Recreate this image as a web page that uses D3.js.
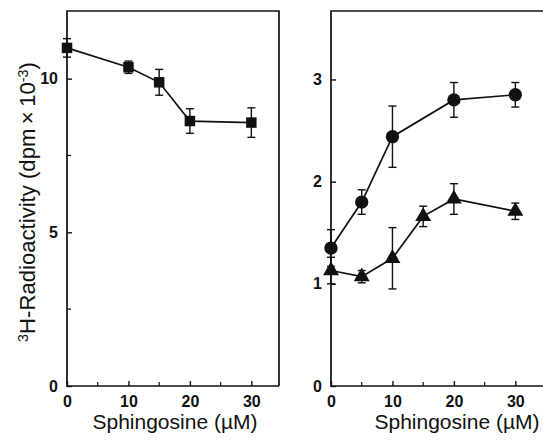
<!DOCTYPE html>
<html>
<head>
<meta charset="utf-8">
<script src="https://cdn.jsdelivr.net/npm/d3@7"></script>
<style>
  body { margin: 0; background: #fff; }
  text { font-family: "Liberation Sans", Arial, sans-serif; fill: #111; }
</style>
</head>
<body>
<div id="chart-area"></div>
<script>
// left panel: squares
const dose = [0, 10, 15, 20, 30]
const squareMean = [11.0, 10.37, 9.88, 8.62, 8.57]
const squareErr = [0.3, 0.2, 0.42, 0.4, 0.48]

// right panel: circles and triangles
const circleDose = [0, 5, 10, 20, 30]
const circleMean = [1.35, 1.80, 2.44, 2.80, 2.85]
const circleErr = [0.18, 0.12, 0.3, 0.17, 0.12]

const triDose = [0, 5, 10, 15, 20, 30]
const triMean = [1.13, 1.07, 1.25, 1.66, 1.83, 1.71]
const triErr = [0.13, 0.06, 0.3, 0.1, 0.15, 0.08]

const xTicks = [0, 10, 20, 30]
const xMinor = [5, 15, 25]
const leftTicks = [0, 5, 10]
const leftMinor = [2.5, 7.5]
const rightTicks = [0, 1, 2, 3]

const svg = d3.select('#chart-area').append('svg')
    .attr('width', 543)
    .attr('height', 444)

const ink = '#111'

// scale a text's font so its length matches what the picture shows
function fitText(sel, target) {
    const fs = +sel.attr('font-size')
    const len = sel.node().getComputedTextLength()
    sel.attr('font-size', (fs * target / len).toFixed(2))
}

function panel(opt) {
    const x = d3.scaleLinear().domain([0, 34.5]).range([opt.left, opt.right])
    const y = d3.scaleLinear().domain([0, opt.yMax]).range([386, 11])
    const g = svg.append('g')

    const frame = opt.closed
        ? [[opt.right, 386], [opt.right, 11], [opt.left, 11], [opt.left, 386], [opt.right, 386]]
        : [[opt.right, 11], [opt.left, 11], [opt.left, 386], [opt.right, 386]]
    g.append('path')
        .attr('d', d3.line()(frame))
        .attr('fill', 'none').attr('stroke', ink).attr('stroke-width', 1.7)

    // ticks point inward
    const xAxis = d3.axisBottom(x).tickValues(xTicks).tickSize(-5).tickPadding(9)
    const xg = g.append('g').attr('transform', 'translate(0,386)').call(xAxis)
    xg.select('.domain').remove()
    xg.selectAll('line').attr('stroke', ink).attr('stroke-width', 1.4)
    xg.selectAll('text').attr('font-size', 16).attr('dy', '0.72em').attr('font-weight', 'bold').attr('fill', '#222')
    g.selectAll(null).data(xMinor).enter().append('line')
        .attr('x1', d => x(d)).attr('x2', d => x(d))
        .attr('y1', 386).attr('y2', 382)
        .attr('stroke', ink).attr('stroke-width', 1.2)

    const yAxis = d3.axisLeft(y).tickValues(opt.yTicks).tickSize(-5).tickPadding(9)
        .tickFormat(d3.format('d'))
    const yg = g.append('g').attr('transform', `translate(${opt.left},0)`).call(yAxis)
    yg.select('.domain').remove()
    yg.selectAll('line').attr('stroke', ink).attr('stroke-width', 1.4)
    yg.selectAll('text').attr('font-size', 16).attr('font-weight', 'bold').attr('fill', '#222')
    g.selectAll(null).data(opt.yMinor || []).enter().append('line')
        .attr('x1', opt.left).attr('x2', opt.left + 4)
        .attr('y1', d => y(d)).attr('y2', d => y(d))
        .attr('stroke', ink).attr('stroke-width', 1.2)

    const xt = g.append('text')
        .attr('x', opt.titleX)
        .attr('y', 429)
        .attr('font-size', 20)
        .attr('text-anchor', 'middle')
        .text('Sphingosine (\u00b5M)')
    fitText(xt, 165)

    return { g, x, y }
}

function series(p, xs, ys, es, shape) {
    const pts = xs.map((d, i) => ({ x: d, y: ys[i], e: es[i] }))
    p.g.append('path')
        .datum(pts)
        .attr('d', d3.line().x(d => p.x(d.x)).y(d => p.y(d.y)))
        .attr('fill', 'none').attr('stroke', ink).attr('stroke-width', 1.7)

    const eb = p.g.selectAll(null).data(pts).enter().append('g')
    eb.append('line')
        .attr('x1', d => p.x(d.x)).attr('x2', d => p.x(d.x))
        .attr('y1', d => p.y(d.y + d.e)).attr('y2', d => p.y(d.y - d.e))
        .attr('stroke', ink).attr('stroke-width', 1.4)
    eb.selectAll(null).data(d => [d.y + d.e, d.y - d.e].map(v => ({ x: d.x, v }))).enter()
        .append('line')
        .attr('x1', d => p.x(d.x) - 4).attr('x2', d => p.x(d.x) + 4)
        .attr('y1', d => p.y(d.v)).attr('y2', d => p.y(d.v))
        .attr('stroke', ink).attr('stroke-width', 1.4)

    const sym = { square: d3.symbolSquare, circle: d3.symbolCircle, triangle: d3.symbolTriangle }[shape]
    const size = { square: 110, circle: 140, triangle: 110 }[shape]
    p.g.selectAll(null).data(pts).enter().append('path')
        .attr('transform', d => `translate(${p.x(d.x)},${p.y(d.y)})`)
        .attr('d', d3.symbol().type(sym).size(size))
        .attr('fill', ink)
}

const left = panel({ left: 67, right: 279, yMax: 12.2, yTicks: leftTicks, yMinor: leftMinor, closed: true, titleX: 175 })
series(left, dose, squareMean, squareErr, 'square')

const right = panel({ left: 331, right: 543, yMax: 3.67, yTicks: rightTicks, closed: false, titleX: 457 })
series(right, circleDose, circleMean, circleErr, 'circle')
series(right, triDose, triMean, triErr, 'triangle')

// y axis title with superscripts
const yt = svg.append('text')
    .attr('transform', 'translate(35,202) rotate(-90)')
    .attr('font-size', 20)
    .attr('text-anchor', 'middle')
yt.append('tspan').attr('font-size', '0.65em').attr('dy', -7).text('3')
yt.append('tspan').attr('dy', 7).text('H-Radioactivity (dpm\u2009\u00d7\u200910')
yt.append('tspan').attr('font-size', '0.65em').attr('dy', -7).text('-3')
yt.append('tspan').attr('dy', 7).text(')')
fitText(yt, 280)
</script>
</body>
</html>
